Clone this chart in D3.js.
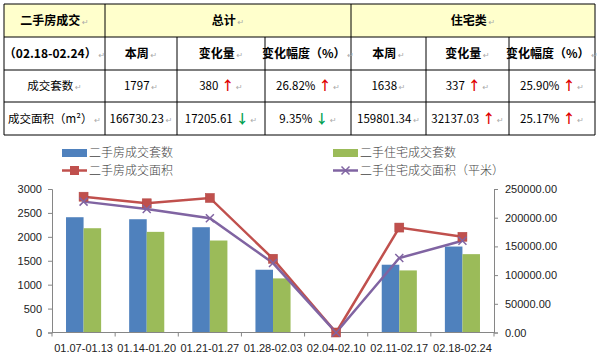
<!DOCTYPE html>
<html>
<head>
  <meta charset="utf-8">
  <title>二手房成交</title>
  <script src="https://cdn.jsdelivr.net/npm/d3@7"></script>
  <style>
    body { margin: 0; background: #fff; }
    text { font-family: "Noto Sans CJK SC", "DejaVu Sans", sans-serif; }
  </style>
</head>
<body>
  <svg width="599" height="353" id="mainsvg"></svg>
  <script>
    // 表格数据
    const tableHead = ['二手房成交', '总计', '住宅类'];
    const subHead = ['（02.18-02.24）', '本周', '变化量', '变化幅度（%）', '本周', '变化量', '变化幅度（%）'];
    const rowNames = ['成交套数', '成交面积（m²）'];
    const rowValues = [
      ['1797', '380', '26.82%', '1638', '337', '25.90%'],
      ['166730.23', '17205.61', '9.35%', '159801.34', '32137.03', '25.17%']
    ];
    const rowTrend = [
      [null, 'up', 'up', null, 'up', 'up'],
      [null, 'down', 'down', null, 'up', 'up']
    ];

    // 图表数据
    const weeks = ['01.07-01.13', '01.14-01.20', '01.21-01.27', '01.28-02.03', '02.04-02.10', '02.11-02.17', '02.18-02.24'];
    const setsAll = [2410, 2368, 2201, 1312, 0, 1417, 1797];     // 二手房成交套数
    const setsHouse = [2180, 2104, 1923, 1131, 0, 1298, 1638];   // 二手住宅成交套数
    const areaAll = [236600, 225100, 234400, 128500, 0, 182800, 166730.23];   // 二手房成交面积
    const areaHouse = [228000, 215300, 199100, 121000, 0, 129700, 159801.34]; // 二手住宅成交面积
    const leftTicks = [0, 500, 1000, 1500, 2000, 2500, 3000];
    const rightTicks = [0, 50000, 100000, 150000, 200000, 250000];
    const seriesNames = ['二手房成交套数', '二手住宅成交套数', '二手房成交面积', '二手住宅成交面积（平米）'];

    const svg = d3.select('#mainsvg');

    // ---------- 表格 ----------
    const colX = [4, 105, 177, 265, 351, 426, 509, 595];
    const rowY = [4, 37, 70, 102, 135];
    const tg = svg.append('g').attr('id', 'table');

    tg.append('rect').attr('x', colX[0]).attr('y', rowY[0])
      .attr('width', colX[7] - colX[0]).attr('height', rowY[1] - rowY[0])
      .attr('fill', '#ffffcc');

    // 竖线：第一行只有 3 个单元格
    colX.forEach((x, i) => {
      const top = (i === 0 || i === 1 || i === 4 || i === 7) ? rowY[0] : rowY[1];
      tg.append('line').attr('x1', x).attr('x2', x).attr('y1', top).attr('y2', rowY[4])
        .attr('stroke', '#000').attr('stroke-width', 1);
    });
    rowY.forEach(y => {
      tg.append('line').attr('x1', colX[0]).attr('x2', colX[7]).attr('y1', y).attr('y2', y)
        .attr('stroke', '#000').attr('stroke-width', 1);
    });

    const mark = '↵';
    function cell(x0, x1, y0, y1, txt, bold, trend) {
      const t = tg.append('text')
        .attr('x', (x0 + x1) / 2).attr('y', (y0 + y1) / 2 + 4)
        .attr('text-anchor', 'middle')
        .attr('font-size', bold ? 12 : 11.5)
        .attr('font-weight', bold ? 'bold' : 'normal')
        .attr('fill', '#000');
      t.append('tspan').text(txt);
      if (trend) {
        t.append('tspan').text(trend === 'up' ? ' ↑' : ' ↓')
          .attr('font-weight', 'bold').attr('font-size', 13)
          .attr('fill', trend === 'up' ? '#e00000' : '#00a050');
      }
      t.append('tspan').text(' ' + mark).attr('font-size', 8).attr('fill', '#aaa').attr('font-weight', 'normal');
    }

    cell(colX[0], colX[1], rowY[0], rowY[1], tableHead[0], true);
    cell(colX[1], colX[4], rowY[0], rowY[1], tableHead[1], true);
    cell(colX[4], colX[7], rowY[0], rowY[1], tableHead[2], true);
    subHead.forEach((s, i) => cell(colX[i], colX[i + 1], rowY[1], rowY[2], s, true));
    rowNames.forEach((name, r) => {
      cell(colX[0], colX[1], rowY[r + 2], rowY[r + 3], name, false);
      rowValues[r].forEach((v, c) => {
        cell(colX[c + 1], colX[c + 2], rowY[r + 2], rowY[r + 3], v, false, rowTrend[r][c]);
      });
    });

    // ---------- 图表 ----------
    const plot = { left: 52, right: 494, top: 189, bottom: 332.5 };
    const x = d3.scaleBand().domain(weeks).range([plot.left, plot.right]).padding(0);
    const bw = x.bandwidth();
    const x1 = d3.scaleBand().domain([0, 1]).range([bw * 0.222, bw * 0.778]);
    const yL = d3.scaleLinear().domain([0, 3000]).range([plot.bottom, plot.top]);
    const yR = d3.scaleLinear().domain([0, 250000]).range([plot.bottom, plot.top]);

    const colors = ['#4f81bd', '#9bbb59', '#c0504d', '#8064a2'];
    const cg = svg.append('g').attr('id', 'chart');

    // 柱
    [setsAll, setsHouse].forEach((vals, s) => {
      cg.selectAll('.bar' + s).data(weeks).join('rect')
        .attr('x', d => x(d) + x1(s))
        .attr('y', (d, i) => yL(vals[i]))
        .attr('width', x1.bandwidth())
        .attr('height', (d, i) => plot.bottom - yL(vals[i]))
        .attr('fill', colors[s]);
    });

    // 坐标轴
    const axisColor = '#868686';
    const leftAxis = cg.append('g').attr('transform', `translate(${plot.left},0)`)
      .call(d3.axisLeft(yL).tickValues(leftTicks).tickSize(4).tickPadding(6).tickFormat(d3.format('d')));
    const rightAxis = cg.append('g').attr('transform', `translate(${plot.right},0)`)
      .call(d3.axisRight(yR).tickValues(rightTicks).tickSize(4).tickPadding(7).tickFormat(d3.format('.2f')));
    const bottomAxis = cg.append('g').attr('transform', `translate(0,${plot.bottom})`)
      .call(d3.axisBottom(x).tickSize(0).tickPadding(12));
    // 类别分隔刻度
    cg.selectAll('.sep').data(d3.range(weeks.length + 1)).join('line')
      .attr('x1', i => plot.left + i * bw).attr('x2', i => plot.left + i * bw)
      .attr('y1', plot.bottom).attr('y2', plot.bottom + 4)
      .attr('stroke', axisColor);

    [leftAxis, rightAxis, bottomAxis].forEach(a => {
      a.select('.domain').attr('stroke', axisColor);
      a.selectAll('.tick line').attr('stroke', axisColor);
      a.selectAll('.tick text').attr('fill', '#222').attr('font-size', 11)
        .style('font-family', '"Liberation Sans", Arial, sans-serif');
    });
    bottomAxis.select('.domain').attr('d', `M${plot.left},0H${plot.right}`);

    // 折线
    const lineFns = [areaAll, areaHouse].map(vals =>
      d3.line().x((d, i) => x(weeks[i]) + bw / 2).y(d => yR(d))(vals));
    cg.append('path').attr('d', lineFns[0]).attr('fill', 'none')
      .attr('stroke', colors[2]).attr('stroke-width', 2.5);
    cg.append('path').attr('d', lineFns[1]).attr('fill', 'none')
      .attr('stroke', colors[3]).attr('stroke-width', 2.5);

    cg.selectAll('.sq').data(areaAll).join('rect')
      .attr('x', (d, i) => x(weeks[i]) + bw / 2 - 4.5)
      .attr('y', d => yR(d) - 4.5)
      .attr('width', 9).attr('height', 9)
      .attr('fill', colors[2]).attr('stroke', '#b04440').attr('stroke-width', 0.5);
    cg.selectAll('.xm').data(areaHouse).join('path')
      .attr('d', (d, i) => {
        const cx = x(weeks[i]) + bw / 2, cy = yR(d), r = 4;
        return `M${cx - r},${cy - r}L${cx + r},${cy + r}M${cx - r},${cy + r}L${cx + r},${cy - r}`;
      })
      .attr('stroke', colors[3]).attr('stroke-width', 1.5);

    // 图例
    const legend = [
      { x: 62, y: 153, type: 'bar', c: colors[0], name: seriesNames[0] },
      { x: 333, y: 153, type: 'bar', c: colors[1], name: seriesNames[1] },
      { x: 62, y: 170.5, type: 'sq', c: colors[2], name: seriesNames[2] },
      { x: 333, y: 170.5, type: 'x', c: colors[3], name: seriesNames[3] }
    ];
    legend.forEach(l => {
      const lg = cg.append('g');
      if (l.type === 'bar') {
        lg.append('rect').attr('x', l.x).attr('y', l.y - 4).attr('width', 25).attr('height', 8).attr('fill', l.c);
      } else {
        lg.append('line').attr('x1', l.x).attr('x2', l.x + 25).attr('y1', l.y).attr('y2', l.y)
          .attr('stroke', l.c).attr('stroke-width', 2.5);
        if (l.type === 'sq') {
          lg.append('rect').attr('x', l.x + 8).attr('y', l.y - 4.5).attr('width', 9).attr('height', 9).attr('fill', l.c);
        } else {
          const cx = l.x + 12.5, cy = l.y, r = 4;
          lg.append('path').attr('d', `M${cx - r},${cy - r}L${cx + r},${cy + r}M${cx - r},${cy + r}L${cx + r},${cy - r}`)
            .attr('stroke', l.c).attr('stroke-width', 1.5);
        }
      }
      lg.append('text').text(l.name).attr('x', l.x + 27).attr('y', l.y + 4.3)
        .attr('font-size', 12).attr('fill', '#444').attr('font-weight', 300);
    });
  </script>
</body>
</html>
